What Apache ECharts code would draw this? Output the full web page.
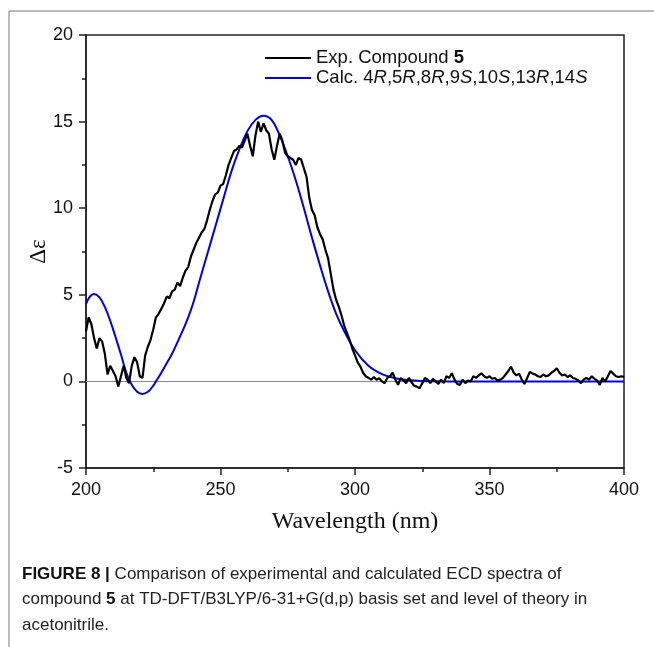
<!DOCTYPE html>
<html>
<head>
<meta charset="utf-8">
<script src="https://cdn.jsdelivr.net/npm/echarts@6/dist/echarts.min.js"></script>
<style>
  html, body { margin: 0; padding: 0; background: #fff; }
  #chart { width: 654px; height: 647px; }
</style>
</head>
<body>
<div id="chart"></div>
<script>
// experimental spectrum, sampled every 1 nm from 200 nm
const expStart = 200;
const expStep = 1;
const expDe = [
  2.9, 3.7, 3.3, 2.5, 1.9, 2.5, 2.3, 1.6, 0.4, 0.9,
  0.6, 0.3, -0.3, 0.3, 0.9, 0.2, -0.1, 0.9, 1.4, 1.1,
  0.3, 0.2, 1.5, 2.0, 2.4, 3.0, 3.7, 3.9, 4.2, 4.5,
  4.9, 4.8, 5.2, 5.3, 5.7, 5.5, 6.0, 6.4, 6.6, 7.2,
  7.6, 8.0, 8.3, 8.6, 8.8, 9.3, 9.9, 10.4, 10.8, 10.9,
  11.3, 11.4, 11.9, 12.5, 12.9, 13.3, 13.4, 13.6, 13.5, 13.9,
  14.3, 13.6, 13.0, 14.2, 15.0, 14.4, 14.9, 14.5, 14.3, 13.4,
  12.8, 13.6, 14.3, 13.9, 13.2, 13.0, 12.9, 12.8, 12.5, 12.9,
  12.8, 12.3, 11.8, 10.6, 9.9, 9.6, 8.9, 8.5, 8.2, 7.6,
  7.1, 6.2, 5.3, 4.7, 4.3, 3.8, 3.2, 2.8, 2.4, 1.9,
  1.5, 1.1, 0.85, 0.5, 0.3, 0.2, 0.1, 0.25, 0.1, 0.18,
  0.0, -0.1, 0.2, 0.3, 0.5, 0.1, -0.2, 0.2, 0.05, -0.1,
  0.2, -0.05, -0.25, -0.3, -0.4, -0.1, 0.2, 0.1, -0.1, 0.15,
  0.0, -0.15, 0.1, -0.1, 0.3, 0.2, 0.47, 0.1, -0.15, -0.2,
  0.1, -0.1, 0.05, 0.0, 0.3, 0.2, 0.35, 0.47, 0.3, 0.2,
  0.3, 0.15, 0.2, 0.05, 0.1, 0.2, 0.4, 0.6, 0.85, 0.5,
  0.35, 0.45, 0.1, -0.15, 0.2, 0.55, 0.45, 0.4, 0.3, 0.25,
  0.4, 0.3, 0.35, 0.5, 0.6, 0.76, 0.5, 0.35, 0.4, 0.25,
  0.35, 0.2, 0.15, 0.05, -0.1, 0.1, 0.2, 0.1, 0.3, 0.15,
  0.05, -0.2, 0.2, 0.0, 0.3, 0.6, 0.45, 0.3, 0.25, 0.3,
  0.25
];

// calculated spectrum
const calcWl = [200, 201, 203, 205, 207, 209, 211, 213, 215, 217, 219, 221, 223, 225, 226,
  228, 230, 232, 235, 238, 240, 242, 245, 248, 251, 254, 257, 260, 263, 266, 269,
  272, 275, 278, 281, 284, 287, 290, 293, 296, 300, 305, 310, 315, 320, 330, 340, 400];
const calcDe = [4.45, 4.8, 5.04, 4.85, 4.3, 3.5, 2.55, 1.55, 0.5, -0.2, -0.6, -0.73, -0.6, -0.25, 0.0,
  0.5, 1.05, 1.6, 2.6, 3.7, 4.6, 5.7, 7.3, 8.9, 10.5, 12.1, 13.4, 14.45, 15.1, 15.34, 15.1,
  14.2, 13.0, 11.6, 10.0, 8.3, 6.7, 5.2, 3.9, 2.9, 1.8, 0.9, 0.42, 0.18, 0.07, 0.01, 0.0, 0.0];

const xTicks = [200, 400, 50];
const yTicks = [-5, 20, 5];

const sans = "Liberation Sans";
const serif = "Liberation Serif";

const expData = expDe.map((v, i) => [expStart + i * expStep, v]);
const calcData = calcWl.map((w, i) => [w, calcDe[i]]);

const chart = echarts.init(document.getElementById("chart"));

const capRich = {
  a: { fontFamily: sans, fontSize: 17, fill: "#222" },
  b: { fontFamily: sans, fontSize: 17, fill: "#111", fontWeight: "bold" }
};
const legRich = {
  a: { fontFamily: sans, fontSize: 18.5, color: "#111" },
  b: { fontFamily: sans, fontSize: 18.5, color: "#111", fontWeight: "bold" },
  i: { fontFamily: sans, fontSize: 18.5, color: "#111", fontStyle: "italic" }
};

chart.setOption({
  animation: false,
  backgroundColor: "#fff",
  grid: {
    left: 86, right: 30, top: 35, bottom: 179,
    show: true, borderColor: "#222", borderWidth: 1.5, backgroundColor: "transparent"
  },
  legend: {
    orient: "vertical",
    left: 260,
    top: 43,
    itemWidth: 46,
    itemHeight: 2,
    itemGap: 0,
    data: [
      { name: "exp", icon: "rect", itemStyle: { color: "#000" } },
      { name: "calc", icon: "rect", itemStyle: { color: "#0000f0" } }
    ],
    formatter: (name) =>
      name === "exp"
        ? "{a|Exp. Compound }{b|5}"
        : "{a|Calc. 4}{i|R}{a|,5}{i|R}{a|,8}{i|R}{a|,9}{i|S}{a|,10}{i|S}{a|,13}{i|R}{a|,14}{i|S}",
    textStyle: { fontFamily: sans, fontSize: 18.5, color: "#111", lineHeight: 20, rich: legRich }
  },
  xAxis: {
    type: "value",
    min: xTicks[0], max: xTicks[1], interval: xTicks[2],
    name: "Wavelength (nm)",
    nameLocation: "middle",
    nameGap: 42,
    nameMoveOverlap: false,
    nameTextStyle: { fontFamily: serif, fontSize: 24, color: "#111" },
    axisLine: { onZero: false, lineStyle: { color: "#222", width: 1.5 } },
    axisTick: { show: true, length: 7, lineStyle: { color: "#222", width: 1.5 } },
    minorTick: { show: true, splitNumber: 2, length: 4, lineStyle: { color: "#222", width: 1.5 } },
    axisLabel: { fontFamily: sans, fontSize: 18, color: "#111", margin: 13 },
    splitLine: { show: false }
  },
  yAxis: {
    type: "value",
    min: yTicks[0], max: yTicks[1], interval: yTicks[2],
    name: "Δε",
    nameLocation: "middle",
    nameGap: 36,
    nameMoveOverlap: false,
    nameTextStyle: { fontFamily: serif, fontSize: 23, color: "#111" },
    axisLine: { show: true, onZero: false, lineStyle: { color: "#222", width: 1.5 } },
    axisTick: { show: true, length: 7, lineStyle: { color: "#222", width: 1.5 } },
    minorTick: { show: true, splitNumber: 2, length: 4, lineStyle: { color: "#222", width: 1.5 } },
    axisLabel: { fontFamily: sans, fontSize: 18, color: "#111", margin: 13 },
    splitLine: { show: false }
  },
  series: [
    {
      name: "zero",
      type: "line",
      data: [],
      z: 1,
      markLine: {
        silent: true,
        z: 1,
        symbol: "none",
        label: { show: false },
        lineStyle: { color: "#888", width: 1, type: "solid" },
        data: [{ yAxis: 0 }]
      }
    },
    {
      name: "exp",
      type: "line",
      data: expData,
      symbol: "none",
      lineStyle: { color: "#000", width: 2.2 },
      itemStyle: { color: "#000" },
      z: 4
    },
    {
      name: "calc",
      type: "line",
      data: calcData,
      symbol: "none",
      smooth: 0.4,
      lineStyle: { color: "#0000f0", width: 2 },
      itemStyle: { color: "#0000f0" },
      z: 3
    }
  ],
  graphic: [
    { type: "line", shape: { x1: 9, y1: 11, x2: 654, y2: 11 }, style: { stroke: "#777", lineWidth: 1 } },
    { type: "line", shape: { x1: 9, y1: 11, x2: 9, y2: 647 }, style: { stroke: "#777", lineWidth: 1 } },
    {
      type: "text", left: 22, top: 566,
      style: { text: "{b|FIGURE 8 | }{a|Comparison of experimental and calculated ECD spectra of}", rich: capRich }
    },
    {
      type: "text", left: 22, top: 591,
      style: { text: "{a|compound }{b|5}{a| at TD-DFT/B3LYP/6-31+G(d,p) basis set and level of theory in}", rich: capRich }
    },
    {
      type: "text", left: 22, top: 617,
      style: { text: "acetonitrile.", fontFamily: sans, fontSize: 17, fill: "#222" }
    }
  ]
});
</script>
</body>
</html>
